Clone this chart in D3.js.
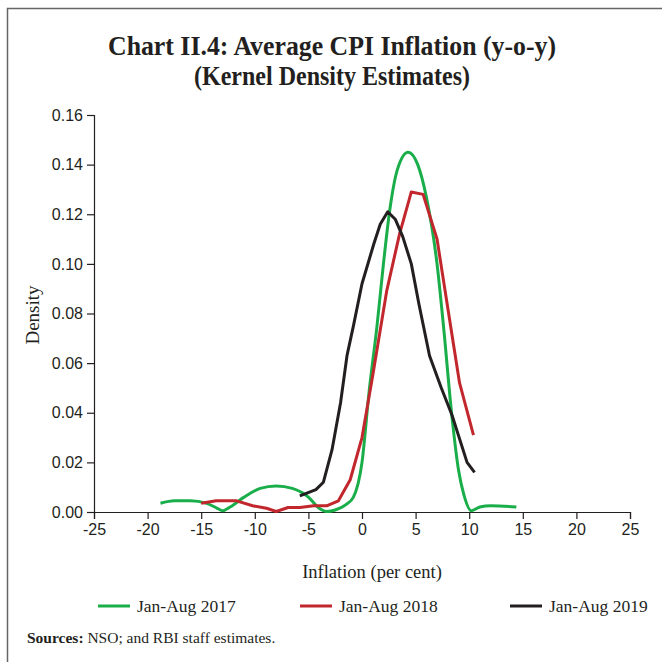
<!DOCTYPE html>
<html>
<head>
<meta charset="utf-8">
<script src="https://cdn.jsdelivr.net/npm/d3@7"></script>
<style>
  body { margin: 0; background: #fff; }
  svg { display: block; }
</style>
</head>
<body>
<script>
// Kernel density estimates: [inflation, density]
var jan2017 = [
    [-18.8, 0.0035], [-17.5, 0.0045], [-16, 0.0045], [-14.5, 0.0035], [-13.5, 0.0015],
    [-13, 0.0005], [-12.3, 0.002], [-11, 0.006], [-9.5, 0.0095], [-8, 0.0105],
    [-6.5, 0.0095], [-5, 0.006], [-4, 0.0015], [-3.3, 0.0002], [-2.5, 0.0008],
    [-1.5, 0.003], [-0.8, 0.006], [0, 0.02], [0.65, 0.048], [1.4, 0.075],
    [2, 0.1], [2.6, 0.122], [3.3, 0.138], [4.3, 0.145], [5.2, 0.14],
    [6, 0.127], [7, 0.1], [7.6, 0.075], [8.4, 0.038], [9, 0.017],
    [9.5, 0.007], [10.2, 0.0005], [11, 0.002], [12, 0.0025], [14.4, 0.002]
];
var jan2018 = [
    [-15, 0.0035], [-13.6, 0.0045], [-11.7, 0.0045], [-10.2, 0.0025], [-8.9, 0.0015],
    [-8, 0.0002], [-6.9, 0.0018], [-5.8, 0.0018], [-4.5, 0.0025], [-3.3, 0.0025],
    [-2.2, 0.0045], [-1.1, 0.013], [0, 0.03], [1, 0.055], [2.3, 0.089],
    [3.5, 0.112], [4.6, 0.129], [5.7, 0.128], [7, 0.11], [7.9, 0.085],
    [9.1, 0.052], [10.4, 0.031]
];
var jan2019 = [
    [-5.8, 0.0065], [-4.3, 0.009], [-3.6, 0.012], [-2.8, 0.025], [-2.0, 0.044],
    [-1.4, 0.063], [-0.8, 0.075], [0, 0.092], [1.1, 0.108], [1.7, 0.116],
    [2.4, 0.121], [3.1, 0.118], [3.8, 0.111], [4.6, 0.1], [5.3, 0.084],
    [6.3, 0.063], [7.4, 0.05], [8.4, 0.039], [9.8, 0.02], [10.5, 0.016]
];
var seriesNames = ["Jan-Aug 2017", "Jan-Aug 2018", "Jan-Aug 2019"];
var xTicks = [-25, -20, -15, -10, -5, 0, 5, 10, 15, 20, 25];
var yTicks = [0, 0.02, 0.04, 0.06, 0.08, 0.10, 0.12, 0.14, 0.16];

var w = 662, h = 662;
var serif = "'Liberation Serif', 'DejaVu Serif', serif";
var sans = "'Liberation Sans', Arial, sans-serif";

var svg = d3.select("body").append("svg")
    .attr("width", w)
    .attr("height", h);

// frame
svg.append("rect")
    .attr("x", 7.5).attr("y", 8.5)
    .attr("width", w).attr("height", h)
    .attr("fill", "none")
    .attr("stroke", "#666")
    .attr("stroke-width", 1.5);

// title
var title = svg.append("g")
    .attr("font-family", serif)
    .attr("font-weight", "bold")
    .attr("font-size", "27px")
    .attr("fill", "#231f20")
    .attr("text-anchor", "middle");
title.append("text").attr("x", 332).attr("y", 55)
    .attr("textLength", 448).attr("lengthAdjust", "spacingAndGlyphs")
    .text("Chart II.4: Average CPI Inflation (y-o-y)");
title.append("text").attr("x", 332).attr("y", 85)
    .attr("textLength", 276).attr("lengthAdjust", "spacingAndGlyphs")
    .text("(Kernel Density Estimates)");

var x = d3.scaleLinear().domain([-25, 25]).range([94, 630]);
var y = d3.scaleLinear().domain([0, 0.16]).range([512, 115]);

// axes
var xAxis = svg.append("g")
    .attr("transform", "translate(0," + y(0) + ")")
    .call(d3.axisBottom(x).tickValues(xTicks).tickSize(7).tickPadding(5));
var yAxis = svg.append("g")
    .attr("transform", "translate(" + x(-25) + ",0)")
    .call(d3.axisLeft(y).tickValues(yTicks).tickSize(7).tickPadding(4)
        .tickFormat(d3.format(".2f")));

[xAxis, yAxis].forEach(function(a) {
    a.select(".domain").attr("stroke", "#231f20").attr("stroke-width", 1.2);
    a.selectAll(".tick line").attr("stroke", "#231f20").attr("stroke-width", 1.2);
    a.selectAll(".tick text")
        .attr("font-family", sans)
        .attr("font-size", "16px")
        .attr("fill", "#231f20");
});
// d3 writes a minus sign; the chart uses a plain hyphen
xAxis.selectAll(".tick text").text(function(d) { return String(d); });

// axis titles
svg.append("text")
    .attr("x", 372).attr("y", 578)
    .attr("text-anchor", "middle")
    .attr("font-family", serif).attr("font-size", "18.5px").attr("fill", "#231f20")
    .text("Inflation (per cent)");
svg.append("text")
    .attr("transform", "translate(39,315) rotate(-90)")
    .attr("text-anchor", "middle")
    .attr("font-family", serif).attr("font-size", "19px").attr("fill", "#231f20")
    .text("Density");

// lines
var colors = ["#1aae4a", "#c1272d", "#231f20"];
var curves = [d3.curveMonotoneX, d3.curveLinear, d3.curveLinear];
[jan2017, jan2018, jan2019].forEach(function(data, i) {
    var line = d3.line()
        .x(function(d) { return x(d[0]); })
        .y(function(d) { return y(d[1]); })
        .curve(curves[i]);
    svg.append("path")
        .datum(data)
        .attr("d", line)
        .attr("fill", "none")
        .attr("stroke", colors[i])
        .attr("stroke-width", 3)
        .attr("stroke-linejoin", "round");
});

// legend
var legendX = [98, 300, 510];
var legend = svg.selectAll(".legend")
    .data(seriesNames)
    .enter()
    .append("g")
    .attr("transform", function(d, i) { return "translate(" + legendX[i] + ",606)"; });
legend.append("line")
    .attr("x1", 0).attr("x2", 32)
    .attr("stroke", function(d, i) { return colors[i]; })
    .attr("stroke-width", 3);
legend.append("text")
    .attr("x", 39).attr("y", 6)
    .attr("font-family", serif).attr("font-size", "17.5px").attr("fill", "#231f20")
    .text(function(d) { return d; });

// source note
var src = svg.append("text")
    .attr("x", 27).attr("y", 643)
    .attr("font-family", serif).attr("font-size", "15.5px").attr("fill", "#231f20");
src.append("tspan").attr("font-weight", "bold").text("Sources:");
src.append("tspan").text(" NSO; and RBI staff estimates.");
</script>
</body>
</html>
